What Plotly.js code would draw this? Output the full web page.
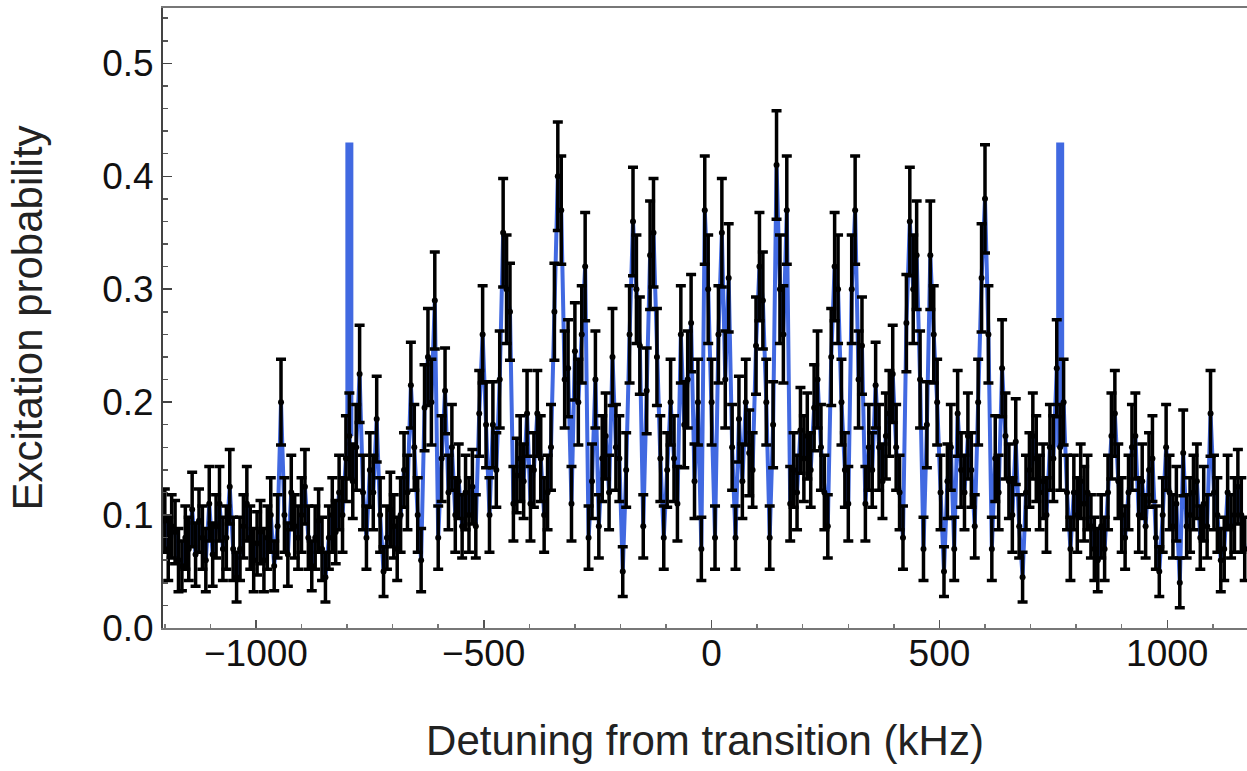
<!DOCTYPE html>
<html>
<head>
<meta charset="utf-8">
<script src="https://cdn.plot.ly/plotly-3.0.1.min.js"></script>
<style>html,body{margin:0;padding:0;background:#fff;}#chart{width:1247px;height:771px;}</style>
</head>
<body>
<div id="chart"></div>
<script>
// Detuning from transition (kHz)
const detuning = [
-1200,-1192.5,-1185,-1177.5,-1170,-1162.5,-1155,-1147.5,-1140,-1132.5,-1125,-1117.5,-1110,-1102.5,-1095,-1087.5,-1080,-1072.5,-1065,-1057.5,
-1050,-1042.5,-1035,-1027.5,-1020,-1012.5,-1005,-997.5,-990,-982.5,-975,-967.5,-960,-952.5,-945,-937.5,-930,-922.5,-915,-907.5,
-900,-892.5,-885,-877.5,-870,-862.5,-855,-847.5,-840,-832.5,-825,-817.5,-810,-802.5,-795,-787.5,-780,-772.5,-765,-757.5,
-750,-742.5,-735,-727.5,-720,-712.5,-705,-697.5,-690,-682.5,-675,-667.5,-660,-652.5,-645,-637.5,-630,-622.5,-615,-607.5,
-600,-592.5,-585,-577.5,-570,-562.5,-555,-547.5,-540,-532.5,-525,-517.5,-510,-502.5,-495,-487.5,-480,-472.5,-465,-457.5,
-450,-442.5,-435,-427.5,-420,-412.5,-405,-397.5,-390,-382.5,-375,-367.5,-360,-352.5,-345,-337.5,-330,-322.5,-315,-307.5,
-300,-292.5,-285,-277.5,-270,-262.5,-255,-247.5,-240,-232.5,-225,-217.5,-210,-202.5,-195,-187.5,-180,-172.5,-165,-157.5,
-150,-142.5,-135,-127.5,-120,-112.5,-105,-97.5,-90,-82.5,-75,-67.5,-60,-52.5,-45,-37.5,-30,-22.5,-15,-7.5,
0,7.5,15,22.5,30,37.5,45,52.5,60,67.5,75,82.5,90,97.5,105,112.5,120,127.5,135,142.5,
150,157.5,165,172.5,180,187.5,195,202.5,210,217.5,225,232.5,240,247.5,255,262.5,270,277.5,285,292.5,
300,307.5,315,322.5,330,337.5,345,352.5,360,367.5,375,382.5,390,397.5,405,412.5,420,427.5,435,442.5,
450,457.5,465,472.5,480,487.5,495,502.5,510,517.5,525,532.5,540,547.5,555,562.5,570,577.5,585,592.5,
600,607.5,615,622.5,630,637.5,645,652.5,660,667.5,675,682.5,690,697.5,705,712.5,720,727.5,735,742.5,
750,757.5,765,772.5,780,787.5,795,802.5,810,817.5,825,832.5,840,847.5,855,862.5,870,877.5,885,892.5,
900,907.5,915,922.5,930,937.5,945,952.5,960,967.5,975,982.5,990,997.5,1005,1012.5,1020,1027.5,1035,1042.5,
1050,1057.5,1065,1072.5,1080,1087.5,1095,1102.5,1110,1117.5,1125,1132.5,1140,1147.5,1155,1162.5,1170
];
// Excitation probability (measured)
const probability = [
0.095,0.07,0.09,0.085,0.06,0.055,0.08,0.07,0.105,0.065,0.095,0.08,0.06,0.11,0.065,0.09,0.11,0.07,0.08,0.125,
0.07,0.045,0.07,0.09,0.11,0.08,0.06,0.075,0.085,0.06,0.08,0.10,0.055,0.09,0.20,0.10,0.065,0.12,0.09,0.08,
0.10,0.125,0.08,0.055,0.08,0.095,0.07,0.045,0.08,0.10,0.085,0.12,0.10,0.15,0.17,0.13,0.16,0.225,0.12,0.08,
0.14,0.12,0.185,0.10,0.05,0.08,0.105,0.09,0.07,0.10,0.14,0.12,0.215,0.16,0.10,0.06,0.195,0.24,0.20,0.29,
0.08,0.15,0.21,0.12,0.16,0.10,0.13,0.09,0.12,0.10,0.125,0.09,0.19,0.26,0.18,0.10,0.18,0.14,0.22,0.35,
0.30,0.28,0.11,0.135,0.15,0.13,0.19,0.11,0.14,0.19,0.15,0.10,0.12,0.16,0.28,0.40,0.37,0.22,0.23,0.11,
0.245,0.20,0.26,0.32,0.08,0.13,0.22,0.09,0.15,0.17,0.12,0.24,0.16,0.15,0.05,0.14,0.26,0.36,0.30,0.25,
0.09,0.21,0.33,0.35,0.24,0.15,0.08,0.14,0.20,0.15,0.11,0.26,0.18,0.22,0.27,0.13,0.20,0.07,0.37,0.30,
0.20,0.08,0.26,0.35,0.22,0.31,0.16,0.08,0.185,0.13,0.20,0.155,0.14,0.25,0.32,0.29,0.20,0.08,0.18,0.41,
0.30,0.26,0.37,0.11,0.14,0.12,0.175,0.15,0.17,0.14,0.195,0.22,0.16,0.12,0.09,0.24,0.32,0.30,0.20,0.14,
0.11,0.30,0.37,0.22,0.25,0.11,0.16,0.14,0.215,0.16,0.13,0.17,0.19,0.225,0.16,0.12,0.08,0.27,0.36,0.30,
0.33,0.22,0.07,0.18,0.33,0.26,0.20,0.12,0.05,0.13,0.16,0.07,0.19,0.14,0.12,0.17,0.14,0.09,0.20,0.31,
0.38,0.26,0.07,0.15,0.12,0.23,0.17,0.13,0.10,0.165,0.09,0.045,0.12,0.14,0.17,0.15,0.12,0.13,0.10,0.16,
0.15,0.23,0.16,0.20,0.12,0.07,0.12,0.10,0.13,0.11,0.12,0.09,0.07,0.06,0.09,0.07,0.12,0.17,0.19,0.13,
0.10,0.08,0.12,0.16,0.17,0.10,0.13,0.09,0.14,0.15,0.08,0.05,0.10,0.16,0.12,0.09,0.11,0.04,0.155,0.09,
0.10,0.12,0.13,0.08,0.11,0.09,0.19,0.12,0.10,0.06,0.07,0.12,0.09,0.10,0.125,0.10,0.07
];
// Error bar half-lengths
const errorBar = [
0.028,0.028,0.028,0.028,0.028,0.022,0.028,0.028,0.033,0.028,0.028,0.028,0.028,0.033,0.028,0.028,0.033,0.028,0.028,0.033,
0.028,0.022,0.028,0.028,0.033,0.028,0.028,0.028,0.028,0.028,0.028,0.033,0.022,0.028,0.038,0.033,0.028,0.033,0.028,0.028,
0.033,0.033,0.028,0.022,0.028,0.028,0.028,0.022,0.028,0.033,0.028,0.033,0.033,0.038,0.038,0.033,0.038,0.043,0.033,0.028,
0.033,0.033,0.038,0.033,0.022,0.028,0.033,0.028,0.028,0.033,0.033,0.033,0.038,0.038,0.033,0.028,0.038,0.043,0.038,0.043,
0.028,0.038,0.038,0.033,0.038,0.033,0.033,0.028,0.033,0.033,0.033,0.028,0.038,0.043,0.038,0.033,0.038,0.033,0.043,0.048,
0.048,0.043,0.033,0.033,0.038,0.033,0.038,0.033,0.033,0.038,0.038,0.033,0.033,0.038,0.043,0.048,0.048,0.043,0.043,0.033,
0.043,0.038,0.043,0.048,0.028,0.033,0.043,0.028,0.038,0.038,0.033,0.043,0.038,0.038,0.022,0.033,0.043,0.048,0.048,0.043,
0.028,0.038,0.048,0.048,0.043,0.038,0.028,0.033,0.038,0.038,0.033,0.043,0.038,0.043,0.043,0.033,0.038,0.028,0.048,0.048,
0.038,0.028,0.043,0.048,0.043,0.048,0.038,0.028,0.038,0.033,0.038,0.038,0.033,0.043,0.048,0.043,0.038,0.028,0.038,0.048,
0.048,0.043,0.048,0.033,0.033,0.033,0.038,0.038,0.038,0.033,0.038,0.043,0.038,0.033,0.028,0.043,0.048,0.048,0.038,0.033,
0.033,0.048,0.048,0.043,0.043,0.033,0.038,0.033,0.038,0.038,0.033,0.038,0.038,0.043,0.038,0.033,0.028,0.043,0.048,0.048,
0.048,0.043,0.028,0.038,0.048,0.043,0.038,0.033,0.022,0.033,0.038,0.028,0.038,0.033,0.033,0.038,0.033,0.028,0.038,0.048,
0.048,0.043,0.028,0.038,0.033,0.043,0.038,0.033,0.033,0.038,0.028,0.022,0.033,0.033,0.038,0.038,0.033,0.033,0.033,0.038,
0.038,0.043,0.038,0.038,0.033,0.028,0.033,0.033,0.033,0.033,0.033,0.028,0.028,0.028,0.028,0.028,0.033,0.038,0.038,0.033,
0.033,0.028,0.033,0.038,0.038,0.033,0.033,0.028,0.033,0.038,0.028,0.022,0.033,0.038,0.033,0.028,0.033,0.022,0.038,0.028,
0.033,0.033,0.033,0.028,0.033,0.028,0.038,0.033,0.033,0.028,0.028,0.033,0.028,0.033,0.033,0.033,0.028
];
// Transition markers (blue vertical lines)
const markerDetuning = [-795, 765];
const markerHeight = [0.43, 0.43];

// Blue joined line through the data points
// Marker segments: from marker height down to the measured value at that detuning
const spikeX = [], spikeY = [];
for (let m = 0; m < markerDetuning.length; m++) {
  const idx = detuning.indexOf(markerDetuning[m]);
  spikeX.push(markerDetuning[m], markerDetuning[m], null);
  spikeY.push(markerHeight[m], probability[idx], null);
}

const fontFam = '"Liberation Sans", Arial, sans-serif';

const traces = [
  {
    x: detuning, y: probability, type: 'scatter', mode: 'lines',
    line: {color: '#4169E1', width: 4},
    hoverinfo: 'skip', showlegend: false
  },
  {
    x: spikeX, y: spikeY, type: 'scatter', mode: 'lines',
    line: {color: '#4169E1', width: 8},
    hoverinfo: 'skip', showlegend: false
  },
  {
    x: detuning, y: probability, type: 'scatter', mode: 'markers',
    marker: {color: '#000', size: 6},
    error_y: {type: 'data', array: errorBar, visible: true, color: '#000', thickness: 3.5, width: 5},
    showlegend: false
  }
];

const layout = {
  width: 1247, height: 771,
  margin: {l: 163, r: 0, t: 8, b: 143},
  paper_bgcolor: '#fff', plot_bgcolor: '#fff',
  font: {family: fontFam, color: '#111'},
  xaxis: {
    range: [-1204, 1175],
    tickvals: [-1000, -500, 0, 500, 1000],
    ticks: 'inside', ticklen: 8, tickwidth: 1.5, tickcolor: '#555',
    minor: {dtick: 100, tick0: 0, ticks: 'inside', ticklen: 4, tickcolor: '#777', showgrid: false},
    showgrid: false, zeroline: false,
    showline: true, linecolor: '#777', linewidth: 2, mirror: true,
    ticklabelstandoff: -8,
    tickfont: {size: 37, family: fontFam, color: '#111'},
    title: {text: 'Detuning from transition (kHz)', font: {size: 42, family: fontFam, color: '#222'}, standoff: 52}
  },
  yaxis: {
    range: [0, 0.549],
    tickvals: [0, 0.1, 0.2, 0.3, 0.4, 0.5],
    tickformat: '.1f',
    ticks: 'inside', ticklen: 9, tickwidth: 1.5, tickcolor: '#444',
    minor: {dtick: 0.02, tick0: 0, ticks: 'inside', ticklen: 5, tickcolor: '#555', showgrid: false},
    showgrid: false, zeroline: false,
    showline: true, linecolor: '#444', linewidth: 2,
    tickfont: {size: 37, family: fontFam, color: '#111'},
    title: {text: 'Excitation probability', font: {size: 42, family: fontFam, color: '#222'}, standoff: 46}
  }
};

Plotly.newPlot('chart', traces, layout, {staticPlot: true, displayModeBar: false});
</script>
</body>
</html>
